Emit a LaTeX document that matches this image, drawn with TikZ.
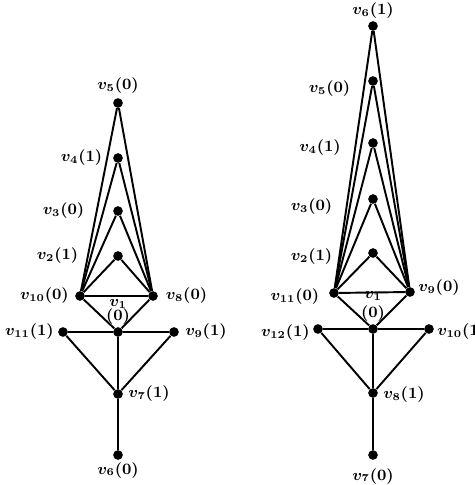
\documentclass[tikz,border=0pt]{standalone}
\usepackage{amsmath,amssymb}
\usepackage{tikz}

\begin{document}
\begin{tikzpicture}[
  vtx/.style={circle, fill=black, inner sep=0pt, minimum size=5.5pt},
  lbl/.style={font=\small\boldmath, inner sep=1pt},
  edge/.style={line width=1.1pt}
]
\useasboundingbox (0,0) rectangle (9.5,9.7);
% Left graph
\node[vtx, label={[lbl,label distance=0.05cm]above:$v_5(0)$}] (a5) at (2.36,7.64) {};
\node[vtx, label={[lbl,label distance=0.17cm]left:$v_4(1)$}] (a4) at (2.36,6.54) {};
\node[vtx, label={[lbl,label distance=0.53cm]left:$v_3(0)$}] (a3) at (2.36,5.48) {};
\node[vtx, label={[lbl,label distance=0.65cm]left:$v_2(1)$}] (a2) at (2.36,4.58) {};
\node[vtx, label={[lbl,label distance=0.08cm]left:$v_{10}(0)$}] (a10) at (1.60,3.78) {};
\node[vtx, label={[lbl,label distance=0.11cm]right:$v_8(0)$}] (a8) at (3.06,3.78) {};
\node[vtx, label={[lbl,align=center,label distance=0cm]above:$v_1$\\[-3pt]$(0)$}] (a1) at (2.36,3.06) {};
\node[vtx, label={[lbl,label distance=0.04cm]left:$v_{11}(1)$}] (a11) at (1.26,3.06) {};
\node[vtx, label={[lbl,label distance=0.08cm]right:$v_9(1)$}] (a9) at (3.48,3.06) {};
\node[vtx, label={[lbl,label distance=0.06cm]right:$v_7(1)$}] (a7) at (2.36,1.82) {};
\node[vtx, label={[lbl,label distance=0cm]below:$v_6(0)$}] (a6) at (2.36,0.60) {};
% fan of the left graph
\foreach \k in {2,...,5} {
  \draw[edge] (a10) -- (a\k) -- (a8);
}
\draw[edge] (a10) -- (a8);
\draw[edge] (a10) -- (a1) -- (a8);
\draw[edge] (a11) -- (a1) -- (a9);
\draw[edge] (a11) -- (a7) -- (a9);
\draw[edge] (a1) -- (a7) -- (a6);
% Right graph
\node[vtx, label={[lbl,label distance=0cm]above:$v_6(1)$}] (b6) at (7.46,9.18) {};
\node[vtx, label={[lbl,label distance=0.31cm,yshift=-0.15cm]left:$v_5(0)$}] (b5) at (7.46,8.08) {};
\node[vtx, label={[lbl,label distance=0.50cm,yshift=-0.1cm]left:$v_4(1)$}] (b4) at (7.46,6.84) {};
\node[vtx, label={[lbl,label distance=0.67cm,yshift=-0.16cm]left:$v_3(0)$}] (b3) at (7.46,5.72) {};
\node[vtx, label={[lbl,label distance=0.67cm,yshift=-0.08cm]left:$v_2(1)$}] (b2) at (7.46,4.64) {};
\node[vtx, label={[lbl,label distance=0.15cm,yshift=-0.08cm]left:$v_{11}(0)$}] (b11) at (6.68,3.84) {};
\node[vtx, label={[lbl,label distance=0.02cm,yshift=0.08cm]right:$v_9(0)$}] (b9) at (8.20,3.86) {};
\node[vtx, label={[lbl,align=center,label distance=0cm]above:$v_1$\\$(0)$}] (b1) at (7.46,3.12) {};
\node[vtx, label={[lbl,label distance=0.02cm,yshift=-0.08cm]left:$v_{12}(1)$}] (b12) at (6.36,3.12) {};
\node[vtx, label={[lbl,label distance=0.02cm,yshift=-0.06cm]right:$v_{10}(1)$}] (b10) at (8.58,3.12) {};
\node[vtx, label={[lbl,label distance=0.06cm,yshift=-0.04cm]right:$v_8(1)$}] (b8) at (7.46,1.84) {};
\node[vtx, label={[lbl,label distance=0.12cm]below:$v_7(0)$}] (b7) at (7.46,0.60) {};
% fan of the right graph
\foreach \k in {2,...,6} {
  \draw[edge] (b11) -- (b\k) -- (b9);
}
\draw[edge] (b11) -- (b9);
\draw[edge] (b11) -- (b1) -- (b9);
\draw[edge] (b12) -- (b1) -- (b10);
\draw[edge] (b12) -- (b8) -- (b10);
\draw[edge] (b1) -- (b8) -- (b7);
\end{tikzpicture}
\end{document}
